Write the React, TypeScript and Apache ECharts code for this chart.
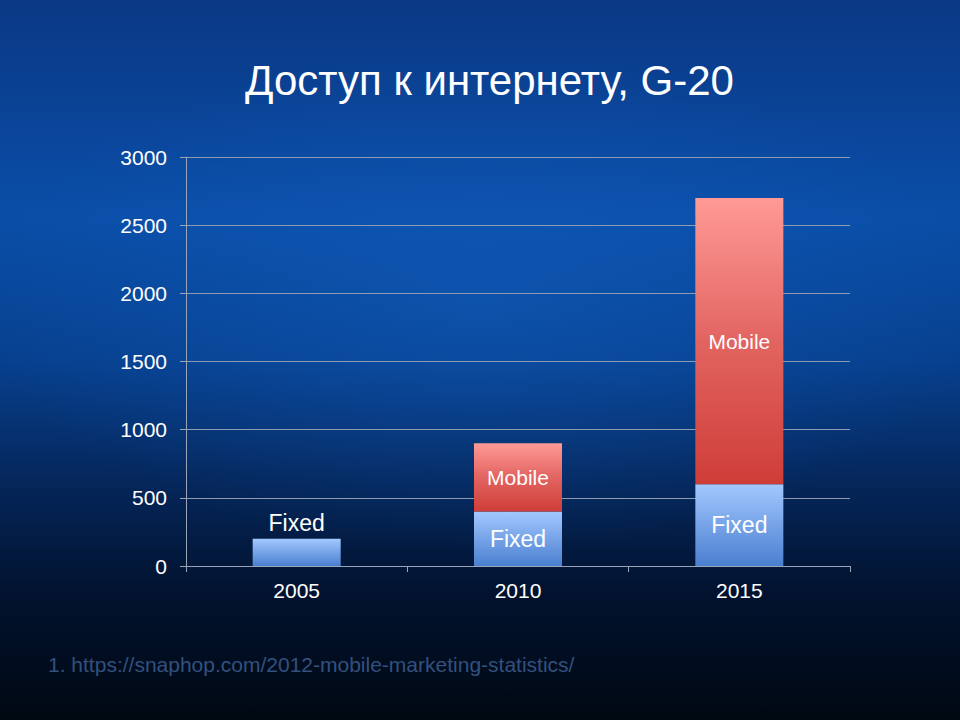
import React, { useEffect, useRef } from "react";
import * as echarts from "echarts";

const categories = ["2005", "2010", "2015"];
const fixedValues = [200, 400, 600];
const mobileValues = [null, 500, 2100];
const yTicks = { min: 0, max: 3000, interval: 500 };
const titleText = "Доступ к интернету, G-20";
const footnote = "1. https://snaphop.com/2012-mobile-marketing-statistics/";

const FONT = "'Liberation Sans', Arial, sans-serif";

export default function App() {
  const ref = useRef<HTMLDivElement>(null);
  useEffect(() => {
    if (!ref.current) return;
    const chart = echarts.init(ref.current, null, { renderer: "svg" });
    const blueGrad = new echarts.graphic.LinearGradient(0, 0, 0, 1, [
      { offset: 0, color: "#a3c8ff" },
      { offset: 1, color: "#4a7fd0" },
    ]);
    const redGrad = new echarts.graphic.LinearGradient(0, 0, 0, 1, [
      { offset: 0, color: "#ff9a96" },
      { offset: 0.5, color: "#e26461" },
      { offset: 1, color: "#cf3d38" },
    ]);
    chart.setOption({
      animation: false,
      backgroundColor: "#000812",
      graphic: [
        {
          type: "rect",
          z: -10,
          silent: true,
          shape: { x: 0, y: 0, width: 960, height: 720 },
          style: {
            fill: new echarts.graphic.LinearGradient(0, 0, 0, 1, [
              { offset: 0, color: "#0a3884" },
              { offset: 0.3, color: "#0a4ea8" },
              { offset: 0.5, color: "#07408e" },
              { offset: 0.65, color: "#052960" },
              { offset: 0.82, color: "#021330" },
              { offset: 1, color: "#000811" },
            ]),
          },
        },
        {
          type: "ellipse",
          z: -9,
          silent: true,
          shape: { cx: 480, cy: 300, rx: 500, ry: 250 },
          style: {
            fill: new echarts.graphic.RadialGradient(0.5, 0.5, 0.5, [
              { offset: 0, color: "rgba(20,100,200,0.4)" },
              { offset: 1, color: "rgba(20,100,200,0)" },
            ]),
          },
        },
        {
          type: "text",
          left: 48,
          top: 654,
          style: {
            text: footnote,
            fill: "#33507f",
            font: `21px ${FONT}`,
          },
        },
      ],
      title: {
        text: titleText,
        left: 240,
        top: 54,
        textStyle: {
          color: "#ffffff",
          fontSize: 42,
          fontWeight: "normal",
          fontFamily: FONT,
        },
      },
      grid: { left: 186, right: 110, top: 157, bottom: 154 },
      xAxis: {
        type: "category",
        data: categories,
        axisLine: { lineStyle: { color: "#9aa6b8" } },
        axisTick: { show: true, length: 6, lineStyle: { color: "#9aa6b8" } },
        axisLabel: { color: "#ffffff", fontSize: 21, fontFamily: FONT, margin: 14 },
      },
      yAxis: {
        type: "value",
        min: yTicks.min,
        max: yTicks.max,
        interval: yTicks.interval,
        axisLine: { show: true, lineStyle: { color: "#9aa6b8" } },
        axisTick: { show: true, length: 6, lineStyle: { color: "#9aa6b8" } },
        splitLine: { lineStyle: { color: "#8e9bb0" } },
        axisLabel: {
          color: "#ffffff",
          fontSize: 21,
          fontFamily: FONT,
          margin: 19,
          formatter: (v: number) => String(v),
        },
      },
      series: [
        {
          name: "Fixed",
          type: "bar",
          stack: "total",
          barWidth: 88,
          data: fixedValues.map((v, i) => ({
            value: v,
            label: {
              show: true,
              position: i === 0 ? "top" : "inside",
              distance: 4,
              formatter: "Fixed",
              color: "#ffffff",
              fontSize: 23,
              fontFamily: FONT,
            },
          })),
          itemStyle: { color: blueGrad },
        },
        {
          name: "Mobile",
          type: "bar",
          stack: "total",
          barWidth: 88,
          data: mobileValues.map((v) => ({
            value: v,
            label: {
              show: v != null,
              position: "inside",
              formatter: "Mobile",
              color: "#ffffff",
              fontSize: 21,
              fontFamily: FONT,
            },
          })),
          itemStyle: { color: redGrad },
        },
      ],
    });
    return () => chart.dispose();
  }, []);
  return (
    <div
      ref={ref}
      style={{ position: "absolute", left: 0, top: 0, width: 960, height: 720 }}
    />
  );
}
